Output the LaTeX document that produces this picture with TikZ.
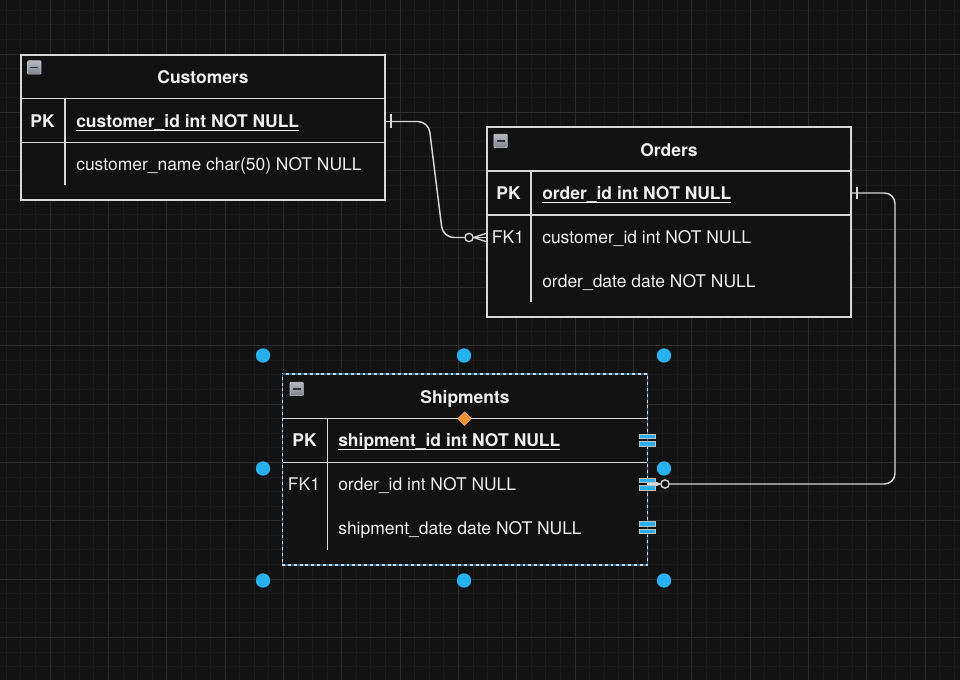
\documentclass[tikz,border=0pt]{standalone}
\usepackage{fontspec}
\setmainfont{TeX Gyre Heros}
\usetikzlibrary{shapes.geometric}

\definecolor{bg}{HTML}{121212}
\definecolor{gridminor}{HTML}{1C1C1C}
\definecolor{gridmajor}{HTML}{2B2B2B}
\definecolor{edge}{HTML}{D8D8D8}
\definecolor{ink}{HTML}{F0F0F0}
\definecolor{handle}{HTML}{29B0EE}
\definecolor{selblue}{HTML}{2A6AA0}
\definecolor{knob}{HTML}{F0913A}
\definecolor{iconhi}{HTML}{B4B8C0}
\definecolor{iconlo}{HTML}{7E838D}

% underlined primary-key field
\newcommand\keyul[1]{\setbox0\hbox{#1}\rlap{\rule[-2.6pt]{\wd0}{0.9pt}}\box0}

\tikzset{
  x=0.75pt, y=-0.75pt,
  basefont/.style={font=\fontsize{13.1pt}{15pt}\selectfont},
  tbl/.style={draw=edge, line width=1.1pt, fill=bg, inner sep=0pt,
    minimum width=273pt},
  divider/.style={draw=edge, line width=1.1pt},
  title/.style={basefont, anchor=base, text=ink, inner sep=0pt,
    font=\fontsize{13.1pt}{15pt}\selectfont\bfseries},
  keytag/.style={basefont, anchor=base, text=ink, inner sep=0pt},
  field/.style={basefont, anchor=base west, text=ink, inner sep=0pt},
  boldtext/.style={font=\fontsize{13.1pt}{15pt}\selectfont\bfseries},
  link/.style={draw=edge, line width=1.1pt, rounded corners=8pt},
  crow/.style={draw=edge, line width=1pt},
  ring/.style={circle, draw=edge, line width=1pt, fill=bg,
    minimum size=6.2pt, inner sep=0pt},
  collapse/.style={draw=iconhi!80!white, line width=0.5pt,
    top color=iconhi, bottom color=iconlo, minimum size=10pt,
    inner sep=0pt, rounded corners=0.6pt,
    path picture={\draw[black!80, line width=1.4pt]
      ([xshift=-3pt]path picture bounding box.center) --
      ([xshift=3pt]path picture bounding box.center);}},
  handledot/.style={circle, fill=handle, minimum size=10.8pt, inner sep=0pt},
  knobmark/.style={diamond, fill=knob, draw=knob!70!white, line width=0.3pt,
    minimum size=10.5pt, inner sep=0pt},
  portbar/.style={fill=handle, draw=white!75!black, line width=0.4pt}
}

\begin{document}
\begin{tikzpicture}
% canvas and grid
\fill[bg] (0,0) rectangle (960,680);
\useasboundingbox (0,0) rectangle (960,680);
\foreach \i in {-3,...,62} {
  \pgfmathsetmacro\gx{50+\i*14.58333}
  \draw[gridminor, line width=0.6pt] (\gx,0) -- (\gx,680);
}
\foreach \i in {-3,...,43} {
  \pgfmathsetmacro\gy{54+\i*14.58333}
  \draw[gridminor, line width=0.6pt] (0,\gy) -- (960,\gy);
}
\foreach \i in {-1,...,16} {
  \pgfmathsetmacro\gx{50+\i*58.33333}
  \draw[gridmajor, line width=0.7pt] (\gx,0) -- (\gx,680);
}
\foreach \i in {-1,...,11} {
  \pgfmathsetmacro\gy{54+\i*58.33333}
  \draw[gridmajor, line width=0.7pt] (0,\gy) -- (960,\gy);
}

% ---------- Customers ----------
\node[tbl, minimum height=108.75pt] (cust) at (203,127.5) {};
\draw[divider] (21,98.5) -- (385,98.5);
\draw[divider] (21,142.5) -- (385,142.5);
\draw[divider] (65,98.5) -- (65,185.5);
\node[collapse] (custicon) at (34.3,67.5) {};
\node[title] (custtitle) at (203,83.5) {Customers};
\node[keytag, boldtext] (custpk) at (42.5,127.5) {PK};
\node[field, boldtext] (custid) at (76,127.5) {\keyul{customer\_id int NOT NULL}};
\node[field] (custname) at (76,170.5) {customer\_name char(50) NOT NULL};

% ---------- Orders ----------
\node[tbl, minimum height=142.5pt] (ord) at (669,222) {};
\draw[divider] (487,171) -- (851,171);
\draw[divider] (487,215) -- (851,215);
\draw[divider] (531,171) -- (531,302);
\node[collapse] (ordicon) at (500.5,141) {};
\node[title] (ordtitle) at (669,156.5) {Orders};
\node[keytag, boldtext] (ordpk) at (508.5,200) {PK};
\node[field, boldtext] (ordid) at (542,200) {\keyul{order\_id int NOT NULL}};
\node[keytag] (ordfk) at (508,244) {FK1};
\node[field] (ordcust) at (542,244) {customer\_id int NOT NULL};
\node[field] (orddate) at (542,287.5) {order\_date date NOT NULL};

% ---------- Shipments ----------
\node[tbl, draw=none, minimum height=142.1pt] (ship) at (465,469.3) {};
\draw[divider] (283,418.7) -- (647,418.7);
\draw[divider] (283,462.3) -- (647,462.3);
\draw[divider] (327.5,418.7) -- (327.5,549.5);
\node[collapse] (shipicon) at (296.7,389) {};
\node[title] (shiptitle) at (465,404) {Shipments};
\node[keytag, boldtext] (shippk) at (304.5,447) {PK};
\node[field, boldtext] (shipid) at (338,447) {\keyul{shipment\_id int NOT NULL}};
\node[keytag] (shipfk) at (304,490.5) {FK1};
\node[field] (shiporder) at (338,490.5) {order\_id int NOT NULL};
\node[field] (shipdate) at (338,534.5) {shipment\_date date NOT NULL};
% selection outline
\draw[white!85!black, line width=1.1pt] (ship.north west) rectangle (ship.south east);
\draw[selblue, line width=1.1pt, dash pattern=on 2.2pt off 2.2pt] (ship.north west) rectangle (ship.south east);

% ---------- relationships ----------
% Customers.customer_id 1 -- 0..* Orders.customer_id
\coordinate (c1a) at (385,121.5);
\coordinate (c1b) at (487,237.5);
\node[ring] (c1ring) at (469,237.5) {};
\draw[link] (c1a) -- (428.5,121.5) -- (443,237.5) -- (c1ring.west);
\draw[crow] (391,114.5) -- (391,128);
\draw[crow] (c1ring.east) -- (c1b);
\draw[crow] (c1ring.east) -- ([yshift=-3.3pt]c1b);
\draw[crow] (c1ring.east) -- ([yshift=3.3pt]c1b);

% Orders.order_id 1 -- 0..* Shipments.order_id
\coordinate (c2a) at (851,193);
\coordinate (c2b) at (647,484);
\node[ring] (c2ring) at (665,484) {};
\draw[link] (c2a) -- (895,193) -- (895,484) -- (c2ring.east);
\draw[crow] (857,187.5) -- (857,199);
\draw[crow] (c2ring.west) -- (c2b);
\draw[crow] (c2ring.west) -- ([yshift=-3.3pt]c2b);
\draw[crow] (c2ring.west) -- ([yshift=3.3pt]c2b);

% ---------- selection handles ----------
\foreach \py in {440,484,527.5} {
  \draw[portbar] (639,\py-6) rectangle (655,\py-1.3);
  \draw[portbar] (639,\py+1.3) rectangle (655,\py+6);
}
\node[knobmark] (knob) at (464.5,418.7) {};
\node[handledot] (hnw) at (263,355.5) {};
\node[handledot] (hn)  at (464,355.5) {};
\node[handledot] (hne) at (664,355.5) {};
\node[handledot] (hw)  at (263,468.5) {};
\node[handledot] (he)  at (664,468.5) {};
\node[handledot] (hsw) at (263,580.5) {};
\node[handledot] (hs)  at (464,580.5) {};
\node[handledot] (hse) at (664,580.5) {};
\end{tikzpicture}
\end{document}
